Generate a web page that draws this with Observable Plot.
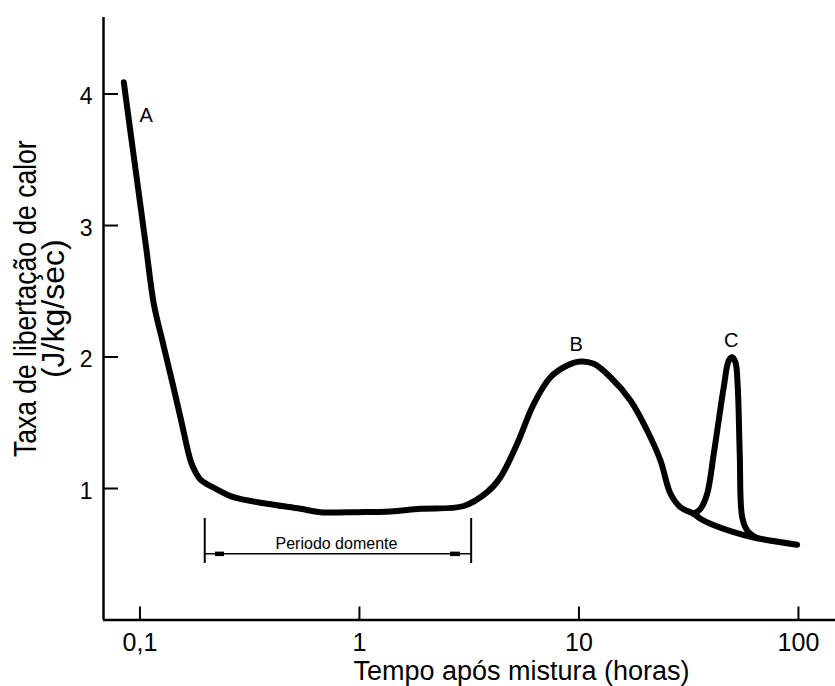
<!DOCTYPE html>
<html>
<head>
<meta charset="utf-8">
<script src="https://cdn.jsdelivr.net/npm/d3@7"></script>
<script src="https://cdn.jsdelivr.net/npm/@observablehq/plot@0.6"></script>
<style>
  html, body { margin: 0; padding: 0; background: #fff; }
  #chart svg { display: block; }
</style>
</head>
<body>
<div id="chart"></div>
<script>
// ---- Data ----
// Main heat-release curve: time after mixing (hours) and rate (J/kg/sec)
const mainTime = [0.0844, 0.0911, 0.0984, 0.1066, 0.1156, 0.1266, 0.1391, 0.1537, 0.1699, 0.179,
                  0.1886, 0.2247, 0.2667, 0.3797, 0.5384, 0.6643, 0.976, 1.384, 1.896, 2.987,
                  3.818, 4.389, 5.23, 6.226, 7.418, 8.837, 10.16, 11.68, 13.92, 17.16,
                  20.45, 23.51, 26.12, 29.0, 33.34, 35.77, 39.72, 50.72, 62.58, 98.6];
const mainRate = [4.09, 3.677, 3.266, 2.837, 2.405, 2.122, 1.837, 1.525, 1.213, 1.125,
                  1.068, 0.992, 0.934, 0.884, 0.846, 0.82, 0.82, 0.825, 0.846, 0.867,
                  0.972, 1.086, 1.34, 1.644, 1.846, 1.935, 1.966, 1.948, 1.846, 1.669,
                  1.441, 1.213, 0.96, 0.858, 0.808, 0.770, 0.732, 0.668, 0.627, 0.572];
// Peak C branch
const peakCTime = [33.34, 35.77, 38.37, 41.13, 45.67, 48.13, 49.88, 51.64, 52.90, 54.02, 55.41, 58.40, 64.85];
const peakCRate = [0.808, 0.846, 0.960, 1.264, 1.770, 1.973, 1.998, 1.960, 1.770, 1.264, 0.782, 0.681, 0.622];

// Peak labels
const peakNames = ["A", "B", "C"];
const peakNameTime = [0.1067, 9.71, 49.37];
const peakNameRate = [3.837, 2.097, 2.125];

// Dormant period bracket
const dormantLabel = "Periodo domente";
const dormantBounds = [0.1973, 3.228];
const dormantLevel = 0.503;
const dormantBarRange = [0.43, 0.772];
const dormantHeadStart = [0.2208, 2.598];
const dormantHeadEnd = [0.2427, 2.885];
const dormantLabelPos = [0.7856, 0.578];

// Axes
const xDomain = [0.06822, 147.5];
const yDomain = [0, 4.582];
const xTicks = [0.1, 1, 10, 100];
const xTickLabels = ["0,1", "1", "10", "100"];
const yTicks = [1, 2, 3, 4];
const yTickLabels = ["1", "2", "3", "4"];
const xTitle = "Tempo após mistura (horas)";
const yTitleLines = ["Taxa de libertação de calor", "(J/kg/sec)"];

// ---- Tables built from the arrays ----
const mainData = mainTime.map((t, i) => ({t, r: mainRate[i]}));
const peakCData = peakCTime.map((t, i) => ({t, r: peakCRate[i]}));
const peakLabelData = peakNames.map((n, i) => ({n, t: peakNameTime[i], r: peakNameRate[i]}));
const headData = dormantHeadStart.map((s, i) => ({x1: s, x2: dormantHeadEnd[i]}));

const FONT = "'Liberation Sans', Arial, Helvetica, sans-serif";

const chart = Plot.plot({
  width: 835,
  height: 686,
  marginLeft: 103,
  marginRight: 0,
  marginTop: 17,
  marginBottom: 66.5,
  style: {fontFamily: FONT, color: "#000", background: "#fff", overflow: "visible"},
  x: {type: "log", domain: xDomain},
  y: {domain: yDomain},
  marks: [
    // axis lines
    Plot.ruleX([xDomain[0]], {stroke: "#000", strokeWidth: 2.5}),
    Plot.ruleY([0], {stroke: "#000", strokeWidth: 2.5}),
    // inward ticks
    Plot.axisX(xTicks, {anchor: "bottom", tickSize: 13, dy: -13, strokeWidth: 2, tickFormat: () => "", label: null}),
    Plot.axisX(xTicks, {anchor: "bottom", tickSize: 0, tickPadding: 13.5, fontSize: 25,
      tickFormat: d => xTickLabels[xTicks.indexOf(d)], label: null}),
    Plot.axisY(yTicks, {anchor: "left", tickSize: 15, dx: 15, strokeWidth: 2, tickFormat: () => "", label: null}),
    Plot.axisY(yTicks, {anchor: "left", tickSize: 0, tickPadding: 11, dy: 3, fontSize: 23,
      tickFormat: d => yTickLabels[yTicks.indexOf(d)], label: null}),
    // curves
    Plot.line(mainData, {x: "t", y: "r", curve: "catmull-rom", stroke: "#000", strokeWidth: 6,
      strokeLinecap: "round", strokeLinejoin: "round"}),
    Plot.line(peakCData, {x: "t", y: "r", curve: "catmull-rom", stroke: "#000", strokeWidth: 6,
      strokeLinecap: "round", strokeLinejoin: "round"}),
    // peak labels
    Plot.text(peakLabelData, {x: "t", y: "r", text: "n", fontSize: 20, textAnchor: "middle", lineAnchor: "middle", fill: "#000"}),
    // dormant period bracket
    Plot.ruleX(dormantBounds, {y1: dormantBarRange[0], y2: dormantBarRange[1], stroke: "#000", strokeWidth: 2}),
    Plot.ruleY([dormantLevel], {x1: dormantBounds[0], x2: dormantBounds[1], stroke: "#000", strokeWidth: 1.5}),
    Plot.ruleY(headData, {x1: "x1", x2: "x2", y: () => dormantLevel, stroke: "#000", strokeWidth: 4.5}),
    Plot.text([dormantLabel], {x: () => dormantLabelPos[0], y: () => dormantLabelPos[1], text: d => d,
      fontSize: 16, textAnchor: "middle", lineAnchor: "middle", fill: "#000"}),
    // axis titles
    Plot.text([yTitleLines[0]], {frameAnchor: "left", text: d => d, rotate: -90, dx: -68, dy: -20,
      fontSize: 26.5, lineAnchor: "bottom", textAnchor: "middle", fill: "#000"}),
    Plot.text([yTitleLines[1]], {frameAnchor: "left", text: d => d, rotate: -90, dx: -40, dy: -10,
      fontSize: 32, lineAnchor: "bottom", textAnchor: "middle", fill: "#000"}),
    Plot.text([xTitle], {frameAnchor: "bottom", text: d => d, dx: 52, dy: 60,
      fontSize: 27, lineAnchor: "bottom", textAnchor: "middle", fill: "#000"})
  ]
});

// The reference's first y-title line has slightly taller glyphs: stretch its glyph height.
d3.select(chart).selectAll("text")
  .filter(function() { return this.textContent === yTitleLines[0]; })
  .attr("transform", function() { return (this.getAttribute("transform") || "") + " scale(1,1.2)"; });

document.getElementById("chart").appendChild(chart);
</script>
</body>
</html>
